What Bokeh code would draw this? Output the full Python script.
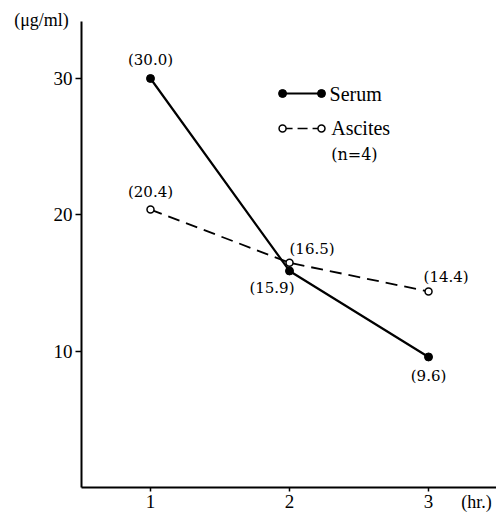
from bokeh.plotting import figure
from bokeh.models import Range1d, FixedTicker, Label, ColumnDataSource, LinearAxis
from bokeh.core.properties import value
from bokeh.embed import file_html
from bokeh.resources import INLINE

# ---- data ----
hours = [1, 2, 3]
serum = [30.0, 15.9, 9.6]
ascites = [20.4, 16.5, 14.4]
serum_labels = ["(30.0)", "(15.9)", "(9.6)"]
ascites_labels = ["(20.4)", "(16.5)", "(14.4)"]
y_ticks = [10, 20, 30]
x_ticks = [1, 2, 3]

X0, X1 = -0.0791, 3.489
Y0, Y1 = -1.795, 35.714
AX_X = 0.504   # where the y axis stands
AX_Y = 0.0     # where the x axis stands
Y_TOP = 34.2

p = figure(width=496, height=512, output_backend="svg", toolbar_location=None,
           x_range=Range1d(X0, X1), y_range=Range1d(Y0, Y1),
           x_axis_location=None, y_axis_location=None, min_border=0)
p.outline_line_color = None
p.grid.visible = False
p.background_fill_color = "white"

xaxis = LinearAxis(fixed_location=AX_Y, bounds=(AX_X, X1), ticker=FixedTicker(ticks=x_ticks))
yaxis = LinearAxis(fixed_location=AX_X, bounds=(AX_Y, Y_TOP), ticker=FixedTicker(ticks=y_ticks))
p.add_layout(xaxis, "below")
p.add_layout(yaxis, "left")

for ax in (xaxis, yaxis):
    ax.axis_line_width = 2
    ax.axis_line_color = "black"
    ax.major_tick_line_color = "black"
    ax.major_tick_line_width = 1.5
    ax.minor_tick_line_color = None
    ax.major_tick_in = 0
    ax.major_label_text_color = "black"

xaxis.major_tick_out = 4
xaxis.major_label_standoff = 3
xaxis.major_label_text_font = "Liberation Serif"
xaxis.major_label_text_font_size = "19px"

yaxis.major_tick_out = 6
yaxis.major_label_standoff = 3
yaxis.major_label_text_font = "Liberation Sans Narrow"
yaxis.major_label_text_font_size = "19px"

# ---- series ----
p.line(hours, ascites, line_color="black", line_width=1.8, line_dash="12 7")
p.line(hours, serum, line_color="black", line_width=2.2)
p.scatter(hours, serum, size=8, fill_color="black", line_color="black")
p.scatter(hours, ascites, size=7, fill_color="white", line_color="black", line_width=1.5)

# ---- value labels ----
lab_src = ColumnDataSource(dict(
    x=hours + hours,
    y=serum + ascites,
    text=serum_labels + ascites_labels,
    xo=[0, 5, 0, 0, 0, -5],
    yo=[-9, 8, 10, -9, -5, -5],
    align=["center", "right", "center", "center", "left", "left"],
    base=["bottom", "top", "top", "bottom", "bottom", "bottom"],
))
p.text(x="x", y="y", text="text", x_offset="xo", y_offset="yo",
       text_align="align", text_baseline="base", source=lab_src,
       text_font=value("DejaVu Serif"), text_font_size="15px", text_color="black")

# ---- legend (hand drawn) ----
leg_x = [1.95, 2.23]
leg_y_serum = 28.9
leg_y_asc = 26.34
p.line(leg_x, [leg_y_serum] * 2, line_color="black", line_width=2)
p.scatter(leg_x, [leg_y_serum] * 2, size=8, fill_color="black", line_color="black")
p.line(leg_x, [leg_y_asc] * 2, line_color="black", line_width=1.6, line_dash="10 5")
p.scatter(leg_x, [leg_y_asc] * 2, size=7, fill_color="white", line_color="black", line_width=1.5)

p.add_layout(Label(x=2.288, y=leg_y_serum, text="Serum", text_font="Liberation Serif",
                   text_font_size="20px", text_baseline="middle", text_color="black"))
p.add_layout(Label(x=2.30, y=leg_y_asc, text="Ascites", text_font="Liberation Serif",
                   text_font_size="20px", text_baseline="middle", text_color="black"))
p.add_layout(Label(x=2.30, y=24.43, text="(n=4)", text_font="DejaVu Serif",
                   text_font_size="16px", text_baseline="middle", text_color="black"))

# ---- unit labels ----
p.add_layout(Label(x=0.216, y=34.32, text="(μg/ml)", text_font="Liberation Serif",
                   text_font_size="18px", text_align="center", text_baseline="middle",
                   text_color="black"))
p.add_layout(Label(x=3.345, y=-1.06, text="(hr.)", text_font="Liberation Serif",
                   text_font_size="18px", text_align="center", text_baseline="middle",
                   text_color="black"))

open("out.html", "w").write(file_html(p, INLINE))
